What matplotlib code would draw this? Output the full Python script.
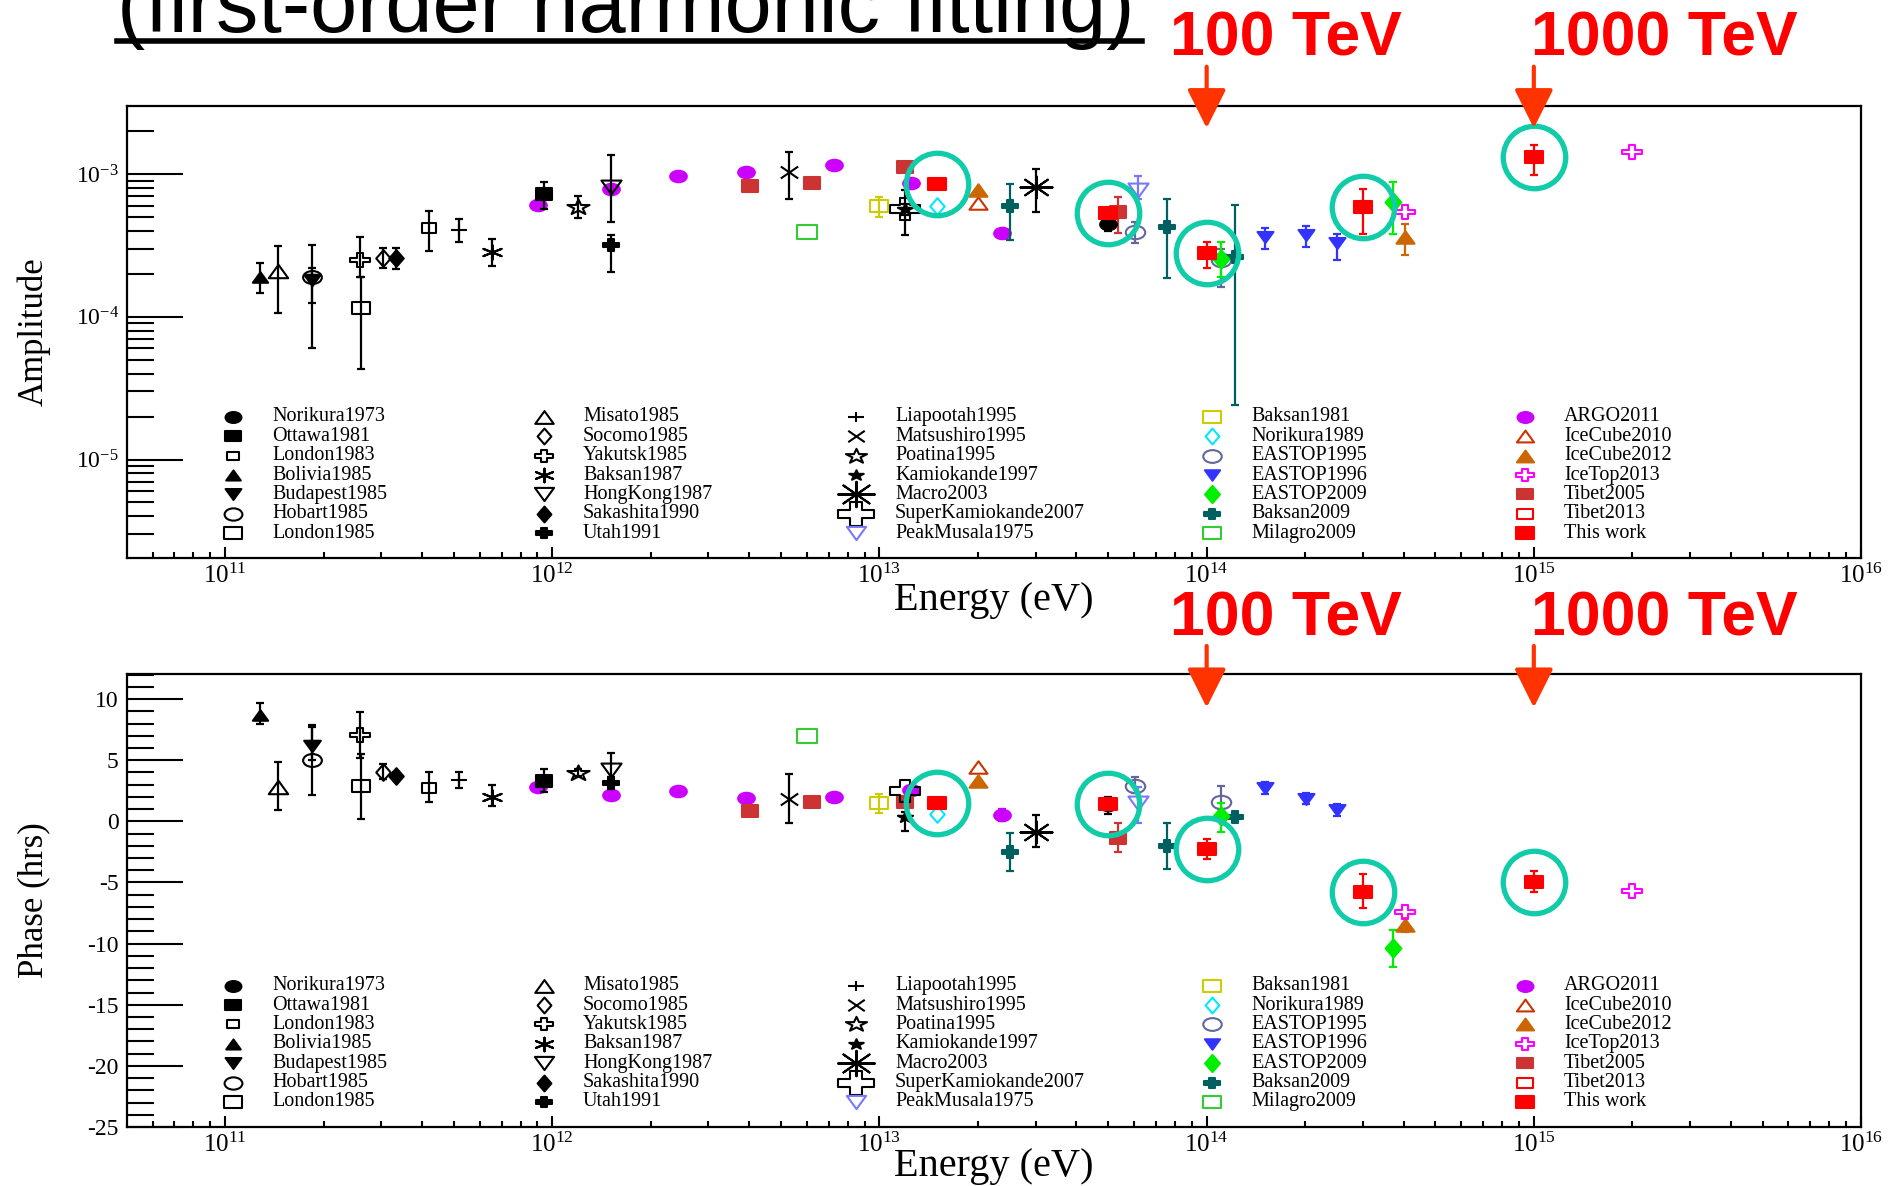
import numpy as np
import matplotlib
matplotlib.use("Agg")
import matplotlib.pyplot as plt
from matplotlib import font_manager
from matplotlib.markers import MarkerStyle
from matplotlib.path import Path
from matplotlib.lines import Line2D
from matplotlib.ticker import LogLocator, LogFormatterMathtext, NullFormatter, MultipleLocator

plt.rcParams['font.family'] = 'Liberation Serif'
plt.rcParams['mathtext.fontset'] = 'custom'
plt.rcParams['mathtext.rm'] = 'Liberation Serif'
plt.rcParams['mathtext.it'] = 'Liberation Serif:italic'
plt.rcParams['mathtext.bf'] = 'Liberation Serif:bold'
plt.rcParams['axes.unicode_minus'] = False

installed = {f.name for f in font_manager.fontManager.ttflist}
SANS = 'Liberation Sans Narrow' if 'Liberation Sans Narrow' in installed else 'Liberation Sans'

# ---- data: energy (eV), amplitude (+lower/upper err), phase in hrs (+lower/upper err)
E_nor73 = [5.0e13]
amp_nor73 = [4.5e-4]; alo_nor73 = [0.5e-4]; ahi_nor73 = [0.4e-4]
phs_nor73 = [1.3]; plo_nor73 = [0.7]; phi_nor73 = [0.7]

E_ott81 = [9.45e11]
amp_ott81 = [7.2e-4]; alo_ott81 = [1.55e-4]; ahi_ott81 = [1.6e-4]
phs_ott81 = [3.32]; plo_ott81 = [0.9]; phi_ott81 = [0.95]

E_lon83 = [4.2e11]
amp_lon83 = [4.2e-4]; alo_lon83 = [1.3e-4]; ahi_lon83 = [1.3e-4]
phs_lon83 = [2.75]; plo_lon83 = [1.2]; phi_lon83 = [1.25]

E_bol85 = [1.28e11]
amp_bol85 = [1.9e-4]; alo_bol85 = [0.43e-4]; ahi_bol85 = [0.47e-4]
phs_bol85 = [8.7]; plo_bol85 = [0.7]; phi_bol85 = [1.0]

E_bud85 = [1.84e11]
amp_bud85 = [1.8e-4]; alo_bud85 = [0.56e-4]; ahi_bud85 = [0.38e-4]
phs_bud85 = [6.2]; plo_bud85 = [1.2]; phi_bud85 = [1.7]

E_hob85 = [1.84e11]
amp_hob85 = [1.9e-4]; alo_hob85 = [1.3e-4]; ahi_hob85 = [1.3e-4]
phs_hob85 = [5.0]; plo_hob85 = [2.85]; phi_hob85 = [2.7]

E_lon85 = [2.6e11]
amp_lon85 = [1.16e-4]; alo_lon85 = [0.73e-4]; ahi_lon85 = [0.74e-4]
phs_lon85 = [2.9]; plo_lon85 = [2.7]; phi_lon85 = [2.6]

E_mis85 = [1.45e11]
amp_mis85 = [2.1e-4]; alo_mis85 = [1.04e-4]; ahi_mis85 = [1.04e-4]
phs_mis85 = [2.8]; plo_mis85 = [1.85]; phi_mis85 = [2.05]

E_soc85 = [3.03e11]
amp_soc85 = [2.6e-4]; alo_soc85 = [0.4e-4]; ahi_soc85 = [0.43e-4]
phs_soc85 = [4.05]; plo_soc85 = [0.6]; phi_soc85 = [0.6]

E_yak85 = [2.58e11]
amp_yak85 = [2.5e-4]; alo_yak85 = [0.6e-4]; ahi_yak85 = [1.15e-4]
phs_yak85 = [7.05]; plo_yak85 = [1.9]; phi_yak85 = [1.9]

E_bak87 = [6.55e11]
amp_bak87 = [2.86e-4]; alo_bak87 = [0.58e-4]; ahi_bak87 = [0.64e-4]
phs_bak87 = [2.0]; plo_bak87 = [0.75]; phi_bak87 = [0.95]

E_hk87 = [1.51e12]
amp_hk87 = [8.1e-4]; alo_hk87 = [3.5e-4]; ahi_hk87 = [5.6e-4]
phs_hk87 = [4.2]; plo_hk87 = [0.8]; phi_hk87 = [1.4]

E_sak90 = [3.33e11]
amp_sak90 = [2.6e-4]; alo_sak90 = [0.45e-4]; ahi_sak90 = [0.45e-4]
phs_sak90 = [3.7]; plo_sak90 = [0.3]; phi_sak90 = [0.3]

E_uta91 = [1.51e12]
amp_uta91 = [3.2e-4]; alo_uta91 = [1.14e-4]; ahi_uta91 = [0.53e-4]
phs_uta91 = [3.15]; plo_uta91 = [0.5]; phi_uta91 = [0.5]

E_lia95 = [5.2e11]
amp_lia95 = [4.06e-4]; alo_lia95 = [0.7e-4]; ahi_lia95 = [0.76e-4]
phs_lia95 = [3.37]; plo_lia95 = [0.65]; phi_lia95 = [0.65]

E_mat95 = [5.3e12]
amp_mat95 = [1.04e-3]; alo_mat95 = [0.37e-3]; ahi_mat95 = [0.39e-3]
phs_mat95 = [1.8]; plo_mat95 = [1.95]; phi_mat95 = [2.1]

E_poa95 = [1.2e12]
amp_poa95 = [5.9e-4]; alo_poa95 = [0.95e-4]; ahi_poa95 = [1.1e-4]
phs_poa95 = [3.97]; plo_poa95 = [0.3]; phi_poa95 = [0.3]

E_kam97 = [1.2e13]
amp_kam97 = [5.7e-4]; alo_kam97 = [0.5e-4]; ahi_kam97 = [0.5e-4]
phs_kam97 = [0.38]; plo_kam97 = [1.15]; phi_kam97 = [0.4]

E_mac03 = [3.0e13]
amp_mac03 = [8.15e-4]; alo_mac03 = [2.7e-4]; ahi_mac03 = [2.65e-4]
phs_mac03 = [-0.85]; plo_mac03 = [1.27]; phi_mac03 = [1.36]

E_suk07 = [1.2e13]
amp_suk07 = [5.66e-4]; alo_suk07 = [1.92e-4]; ahi_suk07 = [2.06e-4]
phs_suk07 = [2.5]; plo_suk07 = [0.0]; phi_suk07 = [0.0]

E_pkm75 = [6.15e13]
amp_pkm75 = [7.7e-4]; alo_pkm75 = [1.0e-4]; ahi_pkm75 = [2.0e-4]
phs_pkm75 = [1.47]; plo_pkm75 = [1.63]; phi_pkm75 = [1.36]

E_bak81 = [1.0e13]
amp_bak81 = [6.0e-4]; alo_bak81 = [1.0e-4]; ahi_bak81 = [0.93e-4]
phs_bak81 = [1.47]; plo_bak81 = [0.75]; phi_bak81 = [0.75]

E_nor89 = [1.5e13]
amp_nor89 = [6.0e-4]; alo_nor89 = [0.0]; ahi_nor89 = [0.0]
phs_nor89 = [0.6]; plo_nor89 = [0.0]; phi_nor89 = [0.0]

E_eas95 = [6.04e13, 1.11e14]
amp_eas95 = [3.94e-4, 2.5e-4]; alo_eas95 = [0.67e-4, 0.88e-4]; ahi_eas95 = [0.69e-4, 0.5e-4]
phs_eas95 = [2.88, 1.6]; plo_eas95 = [0.6, 0.6]; phi_eas95 = [0.76, 1.28]

E_eas96 = [1.51e14, 2.01e14, 2.51e14]
amp_eas96 = [3.64e-4, 3.74e-4, 3.27e-4]; alo_eas96 = [0.67e-4, 0.64e-4, 0.75e-4]; ahi_eas96 = [0.53e-4, 0.58e-4, 0.56e-4]
phs_eas96 = [2.75, 1.85, 0.95]; plo_eas96 = [0.5, 0.45, 0.5]; phi_eas96 = [0.5, 0.45, 0.5]

E_eas09 = [1.11e14, 3.71e14]
amp_eas09 = [2.56e-4, 6.4e-4]; alo_eas09 = [0.66e-4, 2.57e-4]; ahi_eas09 = [0.79e-4, 2.43e-4]
phs_eas09 = [0.43, -10.38]; plo_eas09 = [1.28, 1.5]; phi_eas09 = [1.04, 1.5]

E_bak09 = [2.51e13, 7.55e13, 1.22e14]
amp_bak09 = [5.97e-4, 4.28e-4, 2.63e-4]; alo_bak09 = [2.49e-4, 2.4e-4, 2.39e-4]; ahi_bak09 = [2.49e-4, 2.36e-4, 3.43e-4]
phs_bak09 = [-2.53, -1.99, 0.38]; plo_bak09 = [1.51, 1.93, 0.0]; phi_bak09 = [1.55, 1.88, 0.0]

E_mil09 = [6.0e12]
amp_mil09 = [3.94e-4]; alo_mil09 = [0.0]; ahi_mil09 = [0.0]
phs_mil09 = [6.94]; plo_mil09 = [0.0]; phi_mil09 = [0.0]

E_arg11 = [9.04e11, 1.51e12, 2.43e12, 3.9e12, 7.25e12, 1.25e13, 2.37e13]
amp_arg11 = [6.07e-4, 7.9e-4, 9.73e-4, 1.04e-3, 1.16e-3, 8.7e-4, 3.84e-4]
alo_arg11 = [0, 0, 0, 0, 0, 0, 0.3e-4]; ahi_arg11 = [0, 0, 0, 0, 0, 0, 0.3e-4]
phs_arg11 = [2.83, 2.15, 2.48, 1.93, 1.96, 2.56, 0.51]
plo_arg11 = [0, 0, 0, 0, 0, 0, 0.5]; phi_arg11 = [0, 0, 0, 0, 0, 0, 0.5]

E_ic10 = [2.0e13]
amp_ic10 = [6.24e-4]; alo_ic10 = [0.0]; ahi_ic10 = [0.0]
phs_ic10 = [4.41]; plo_ic10 = [0.0]; phi_ic10 = [0.0]

E_ic12 = [2.0e13, 4.03e14]
amp_ic12 = [7.72e-4, 3.64e-4]; alo_ic12 = [0.0, 0.94e-4]; ahi_ic12 = [0.0, 0.86e-4]
phs_ic12 = [3.32, -8.47]; plo_ic12 = [0.0, 0.6]; phi_ic12 = [0.0, 0.6]

E_it13 = [4.03e14, 2.0e15]
amp_it13 = [5.45e-4, 1.42e-3]; alo_it13 = [0.0, 0.0]; ahi_it13 = [0.0, 0.0]
phs_it13 = [-7.38, -5.67]; plo_it13 = [0.0, 0.0]; phi_it13 = [0.0, 0.0]

E_tib05 = [4.03e12, 6.22e12, 1.2e13, 5.35e13]
amp_tib05 = [8.3e-4, 8.7e-4, 1.12e-3, 5.45e-4]; alo_tib05 = [0, 0, 0, 1.6e-4]; ahi_tib05 = [0, 0, 0, 1.48e-4]
phs_tib05 = [0.87, 1.55, 1.6, -1.39]; plo_tib05 = [0, 0, 0, 1.09]; phi_tib05 = [0, 0, 0, 1.23]

E_tib13 = []
amp_tib13 = []; alo_tib13 = []; ahi_tib13 = []
phs_tib13 = []; plo_tib13 = []; phi_tib13 = []

E_this = [1.5e13, 5.0e13, 1.0e14, 3.0e14, 1.0e15]
amp_this = [8.5e-4, 5.3e-4, 2.78e-4, 5.9e-4, 1.31e-3]
alo_this = [0.3e-4, 0.4e-4, 0.6e-4, 2.07e-4, 3.3e-4]; ahi_this = [0.3e-4, 0.4e-4, 0.57e-4, 1.91e-4, 2.9e-4]
phs_this = [1.47, 1.39, -2.26, -5.75, -4.93]
plo_this = [0.3, 0.5, 0.82, 1.35, 0.82]; phi_this = [0.3, 0.5, 0.81, 1.45, 0.89]

arrow_E = [1e14, 1e15]
arrow_txt = ['100 TeV', '1000 TeV']

# ---- marker shapes (the original figure is stretched horizontally)
SX = 1.45


def wide(m):
    ms = MarkerStyle(m)
    p = ms.get_path().transformed(ms.get_transform())
    return Path(p.vertices * np.array([SX, 1.0]), p.codes)


a = 1 / 3
OPEN_CROSS = Path([(-a, 1), (a, 1), (a, a), (1, a), (1, -a), (a, -a), (a, -1), (-a, -1),
                   (-a, -a), (-1, -a), (-1, a), (-a, a), (-a, 1)], closed=True)

# label: (marker, size, colour, filled)
STYLE = {
    'Norikura1973': ('o', 12, 'black', True),
    'Ottawa1981': ('s', 12, 'black', True),
    'London1983': ('s', 9.5, 'black', False),
    'Bolivia1985': ('^', 11, 'black', True),
    'Budapest1985': ('v', 12, 'black', True),
    'Hobart1985': ('o', 13.5, 'black', False),
    'London1985': ('s', 13.5, 'black', False),
    'Misato1985': ('^', 14, 'black', False),
    'Socomo1985': ('d', 12, 'black', False),
    'Yakutsk1985': (OPEN_CROSS, 14, 'black', False),
    'Baksan1987': ((6, 2, 0), 13, 'black', False),
    'HongKong1987': ('v', 14.5, 'black', False),
    'Sakashita1990': ('d', 12, 'black', True),
    'Utah1991': ('P', 12, 'black', True),
    'Liapootah1995': ('+', 12, 'black', False),
    'Matsushiro1995': ('x', 12.5, 'black', False),
    'Poatina1995': ('*', 16, 'black', False),
    'Kamiokande1997': ('*', 11, 'black', True),
    'Macro2003': ((8, 2, 0), 23, 'black', False),
    'SuperKamiokande2007': (OPEN_CROSS, 22, 'black', False),
    'PeakMusala1975': ('v', 14.5, '#7878FF', False),
    'Baksan1981': ('s', 13, '#CCCC00', False),
    'Norikura1989': ('d', 12, '#00E8FF', False),
    'EASTOP1995': ('o', 14, '#66669E', False),
    'EASTOP1996': ('v', 11.5, '#3333FF', True),
    'EASTOP2009': ('d', 13, '#00EE00', True),
    'Baksan2009': ('P', 12, '#006060', True),
    'Milagro2009': ('s', 14, '#33CC33', False),
    'ARGO2011': ('o', 12, '#CC00FF', True),
    'IceCube2010': ('^', 13, '#CC3300', False),
    'IceCube2012': ('^', 13, '#CC6600', True),
    'IceTop2013': (OPEN_CROSS, 14, '#FF00FF', False),
    'Tibet2005': ('s', 12, '#CC3333', True),
    'Tibet2013': ('s', 12, '#FF0000', False),
    'This work': ('s', 13, '#FF0000', True),
}

SERIES = [
    ('ARGO2011', E_arg11, amp_arg11, alo_arg11, ahi_arg11, phs_arg11, plo_arg11, phi_arg11),
    ('Tibet2005', E_tib05, amp_tib05, alo_tib05, ahi_tib05, phs_tib05, plo_tib05, phi_tib05),
    ('Norikura1973', E_nor73, amp_nor73, alo_nor73, ahi_nor73, phs_nor73, plo_nor73, phi_nor73),
    ('Ottawa1981', E_ott81, amp_ott81, alo_ott81, ahi_ott81, phs_ott81, plo_ott81, phi_ott81),
    ('London1983', E_lon83, amp_lon83, alo_lon83, ahi_lon83, phs_lon83, plo_lon83, phi_lon83),
    ('Bolivia1985', E_bol85, amp_bol85, alo_bol85, ahi_bol85, phs_bol85, plo_bol85, phi_bol85),
    ('Budapest1985', E_bud85, amp_bud85, alo_bud85, ahi_bud85, phs_bud85, plo_bud85, phi_bud85),
    ('Hobart1985', E_hob85, amp_hob85, alo_hob85, ahi_hob85, phs_hob85, plo_hob85, phi_hob85),
    ('London1985', E_lon85, amp_lon85, alo_lon85, ahi_lon85, phs_lon85, plo_lon85, phi_lon85),
    ('Misato1985', E_mis85, amp_mis85, alo_mis85, ahi_mis85, phs_mis85, plo_mis85, phi_mis85),
    ('Socomo1985', E_soc85, amp_soc85, alo_soc85, ahi_soc85, phs_soc85, plo_soc85, phi_soc85),
    ('Yakutsk1985', E_yak85, amp_yak85, alo_yak85, ahi_yak85, phs_yak85, plo_yak85, phi_yak85),
    ('Baksan1987', E_bak87, amp_bak87, alo_bak87, ahi_bak87, phs_bak87, plo_bak87, phi_bak87),
    ('HongKong1987', E_hk87, amp_hk87, alo_hk87, ahi_hk87, phs_hk87, plo_hk87, phi_hk87),
    ('Sakashita1990', E_sak90, amp_sak90, alo_sak90, ahi_sak90, phs_sak90, plo_sak90, phi_sak90),
    ('Utah1991', E_uta91, amp_uta91, alo_uta91, ahi_uta91, phs_uta91, plo_uta91, phi_uta91),
    ('Liapootah1995', E_lia95, amp_lia95, alo_lia95, ahi_lia95, phs_lia95, plo_lia95, phi_lia95),
    ('Matsushiro1995', E_mat95, amp_mat95, alo_mat95, ahi_mat95, phs_mat95, plo_mat95, phi_mat95),
    ('Poatina1995', E_poa95, amp_poa95, alo_poa95, ahi_poa95, phs_poa95, plo_poa95, phi_poa95),
    ('SuperKamiokande2007', E_suk07, amp_suk07, alo_suk07, ahi_suk07, phs_suk07, plo_suk07, phi_suk07),
    ('Kamiokande1997', E_kam97, amp_kam97, alo_kam97, ahi_kam97, phs_kam97, plo_kam97, phi_kam97),
    ('Macro2003', E_mac03, amp_mac03, alo_mac03, ahi_mac03, phs_mac03, plo_mac03, phi_mac03),
    ('PeakMusala1975', E_pkm75, amp_pkm75, alo_pkm75, ahi_pkm75, phs_pkm75, plo_pkm75, phi_pkm75),
    ('Baksan1981', E_bak81, amp_bak81, alo_bak81, ahi_bak81, phs_bak81, plo_bak81, phi_bak81),
    ('Norikura1989', E_nor89, amp_nor89, alo_nor89, ahi_nor89, phs_nor89, plo_nor89, phi_nor89),
    ('EASTOP1995', E_eas95, amp_eas95, alo_eas95, ahi_eas95, phs_eas95, plo_eas95, phi_eas95),
    ('EASTOP1996', E_eas96, amp_eas96, alo_eas96, ahi_eas96, phs_eas96, plo_eas96, phi_eas96),
    ('Baksan2009', E_bak09, amp_bak09, alo_bak09, ahi_bak09, phs_bak09, plo_bak09, phi_bak09),
    ('EASTOP2009', E_eas09, amp_eas09, alo_eas09, ahi_eas09, phs_eas09, plo_eas09, phi_eas09),
    ('Milagro2009', E_mil09, amp_mil09, alo_mil09, ahi_mil09, phs_mil09, plo_mil09, phi_mil09),
    ('IceCube2010', E_ic10, amp_ic10, alo_ic10, ahi_ic10, phs_ic10, plo_ic10, phi_ic10),
    ('IceCube2012', E_ic12, amp_ic12, alo_ic12, ahi_ic12, phs_ic12, plo_ic12, phi_ic12),
    ('IceTop2013', E_it13, amp_it13, alo_it13, ahi_it13, phs_it13, plo_it13, phi_it13),
    ('Tibet2013', E_tib13, amp_tib13, alo_tib13, ahi_tib13, phs_tib13, plo_tib13, phi_tib13),
    ('This work', E_this, amp_this, alo_this, ahi_this, phs_this, plo_this, phi_this),
]

LEGEND_COLS = [
    ['Norikura1973', 'Ottawa1981', 'London1983', 'Bolivia1985', 'Budapest1985', 'Hobart1985', 'London1985'],
    ['Misato1985', 'Socomo1985', 'Yakutsk1985', 'Baksan1987', 'HongKong1987', 'Sakashita1990', 'Utah1991'],
    ['Liapootah1995', 'Matsushiro1995', 'Poatina1995', 'Kamiokande1997', 'Macro2003', 'SuperKamiokande2007', 'PeakMusala1975'],
    ['Baksan1981', 'Norikura1989', 'EASTOP1995', 'EASTOP1996', 'EASTOP2009', 'Baksan2009', 'Milagro2009'],
    ['ARGO2011', 'IceCube2010', 'IceCube2012', 'IceTop2013', 'Tibet2005', 'Tibet2013', 'This work'],
]

CIRCLE_COL = '#10CCA8'
ARROW_COL = '#FF3300'


def marker_kw(label, scale=1.0):
    m, s, c, filled = STYLE[label]
    return dict(marker=wide(m), ms=s * scale, mec=c, mfc=c if filled else 'none', mew=1.5)


def draw(ax, label, E, y, lo, hi, z):
    if len(E) == 0:
        return
    E, y, lo, hi = (np.asarray(v, dtype=float) for v in (E, y, lo, hi))
    c = STYLE[label][2]
    m = (lo > 0) | (hi > 0)
    if m.any():
        ax.errorbar(E[m], y[m], yerr=[lo[m], hi[m]], fmt='none', ecolor=c,
                    elinewidth=1.6, capsize=2.6, capthick=1.6, zorder=z)
    ax.plot(E, y, ls='none', zorder=z + 0.1, **marker_kw(label))


def style_axes(ax, label_y):
    ax.set_xscale('log')
    ax.set_xlim(10 ** 10.7, 1e16)
    for s in ax.spines.values():
        s.set_linewidth(1.6)
    ax.tick_params(axis='both', which='both', direction='in', top=False, right=False,
                   labelsize=17, width=1.5)
    ax.tick_params(axis='x', which='major', length=8, pad=4, labelsize=18)
    ax.tick_params(axis='x', which='minor', length=4.3)
    ax.tick_params(axis='y', which='major', length=40, pad=6)
    ax.tick_params(axis='y', which='minor', length=19.5)
    ax.xaxis.set_major_locator(LogLocator(base=10, numticks=20))
    ax.xaxis.set_minor_locator(LogLocator(base=10, subs=np.arange(2, 10), numticks=20))
    ax.xaxis.set_major_formatter(LogFormatterMathtext())
    ax.xaxis.set_minor_formatter(NullFormatter())
    ax.set_xlabel('Energy (eV)', fontsize=29)
    ax.xaxis.set_label_coords(0.5, label_y)
    ax.xaxis.label.set_va('baseline')


def draw_key(ax):
    col_x = [0.0611, 0.2405, 0.4204, 0.6257, 0.8062]
    for ci, col in enumerate(LEGEND_COLS):
        for ri, label in enumerate(col):
            y = 0.312 - ri * 0.0428
            sc = 1.15 if label in ('Macro2003', 'SuperKamiokande2007') else 0.95
            ax.plot([col_x[ci]], [y], transform=ax.transAxes, ls='none', clip_on=False,
                    zorder=4, **marker_kw(label, sc))
            ax.text(col_x[ci] + 0.0225, y, label, transform=ax.transAxes, fontsize=14.5,
                    va='center', ha='left')


fig = plt.figure(figsize=(18.95, 11.86), dpi=100)
ax1 = fig.add_axes([127 / 1895, 1 - 558 / 1186, 1734 / 1895, 452 / 1186])
ax2 = fig.add_axes([127 / 1895, 1 - 1127 / 1186, 1734 / 1895, 453 / 1186])

style_axes(ax1, -0.115)
style_axes(ax2, -0.108)

ax1.set_yscale('log')
ax1.set_ylim(10 ** -5.69, 10 ** -2.523)
ax1.yaxis.set_major_locator(LogLocator(base=10, numticks=20))
ax1.yaxis.set_minor_locator(LogLocator(base=10, subs=np.arange(2, 10), numticks=20))
ax1.yaxis.set_major_formatter(LogFormatterMathtext())
ax1.yaxis.set_minor_formatter(NullFormatter())
ax1.set_ylabel('Amplitude', fontsize=25)
ax1.yaxis.set_label_coords(-0.044, 0.5)

ax2.set_ylim(-25, 12.05)
ax2.yaxis.set_major_locator(MultipleLocator(5))
ax2.yaxis.set_minor_locator(MultipleLocator(1))
ax2.set_ylabel('Phase (hrs)', fontsize=25)
ax2.yaxis.set_label_coords(-0.044, 0.5)

for label, E, amp, alo, ahi, phs, plo, phi in SERIES:
    z = 2 if label == 'ARGO2011' else (6 if label == 'This work' else 3)
    draw(ax1, label, E, amp, alo, ahi, z)
    draw(ax2, label, E, phs, plo, phi, z)

# highlight circles around this work
for ax, vals in ((ax1, amp_this), (ax2, phs_this)):
    ax.plot(E_this, vals, ls='none', marker='o', ms=45, mfc='none', mec=CIRCLE_COL,
            mew=3.8, zorder=10)

draw_key(ax1)
draw_key(ax2)

# arrows and energy labels above each panel
for ax, tip, tail in ((ax1, 0.951, 1.087), (ax2, 0.926, 1.062)):
    for e in arrow_E:
        ax.annotate('', xy=(e, tip), xycoords=('data', 'axes fraction'),
                    xytext=(e, tail), textcoords=('data', 'axes fraction'),
                    arrowprops=dict(arrowstyle='-|>', color=ARROW_COL, lw=3,
                                    mutation_scale=60, shrinkA=0, shrinkB=0),
                    annotation_clip=False, zorder=30)

for base_y in (55, 636):
    for txt, x0 in zip(arrow_txt, (1170, 1531)):
        fig.text(x0 / 1895, 1 - base_y / 1186, txt, color='#FF0000', fontsize=45,
                 fontweight='bold', family=SANS, ha='left', va='baseline')

# slide title, cut at the top edge as in the source slide
title_size = 75 if SANS.endswith('Narrow') else 61
fig.text(117 / 1895, 1 - 32 / 1186, '(first-order harmonic fitting)', fontsize=title_size,
         family=SANS, ha='left', va='baseline', color='black')
fig.add_artist(Line2D([117 / 1895, 1142 / 1895], [1 - 40.5 / 1186] * 2, color='black', lw=4))

fig.savefig('out.png', dpi=100)
